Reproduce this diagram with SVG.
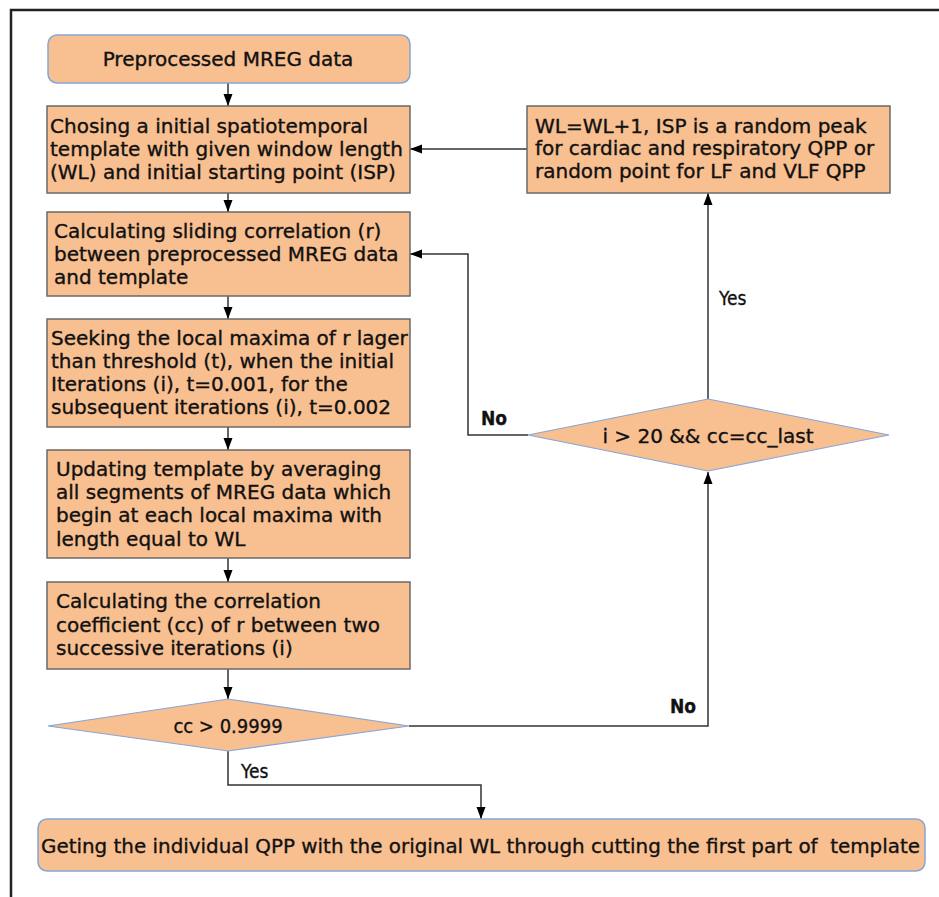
<svg xmlns="http://www.w3.org/2000/svg" width="939" height="897" viewBox="0 0 939 897">
<defs>
<marker id="ah" markerUnits="userSpaceOnUse" markerWidth="12" markerHeight="10" refX="12" refY="5" orient="auto">
<path d="M0,0.5 L12,5 L0,9.5 z" fill="#000"/>
</marker>
<style>
.box{fill:#f8bf90;stroke:#6a6a6a;stroke-width:1.5}
.rbox{fill:#f8bf90;stroke:#86a6d6;stroke-width:1.5}
.dia{fill:#f8bf90;stroke:#86a6d6;stroke-width:1.2}
.t{font-family:"DejaVu Sans",sans-serif;font-size:20px;fill:#111;stroke:#111;stroke-width:0.35}
.c{font-family:"DejaVu Sans Condensed","DejaVu Sans",sans-serif;font-size:20px;fill:#111;stroke:#111;stroke-width:0.3}
.lbl{font-family:"DejaVu Sans Condensed","DejaVu Sans",sans-serif;font-size:19px;fill:#111;stroke:#111;stroke-width:0.3}
.ln{fill:none;stroke:#333;stroke-width:1.5}
.arr{fill:none;stroke:#333;stroke-width:1.5;marker-end:url(#ah)}
</style>
</defs>
<rect width="939" height="897" fill="#fff"/>
<g id="frame">
<path d="M11,897 V10 H939" fill="none" stroke="#222" stroke-width="2.5"/>
</g>
<g id="connectors">
<line class="arr" x1="228" y1="83" x2="228" y2="106"/>
<line class="arr" x1="228" y1="193" x2="228" y2="212"/>
<line class="arr" x1="228" y1="296" x2="228" y2="319"/>
<line class="arr" x1="228" y1="427" x2="228" y2="450"/>
<line class="arr" x1="228" y1="558" x2="228" y2="582"/>
<line class="arr" x1="228" y1="669" x2="228" y2="699"/>
<polyline class="arr" points="228,751 228,785 481,785 481,819"/>
<polyline class="arr" points="409,726 708,726 708,472"/>
<polyline class="arr" points="528,435 468,435 468,254 410,254"/>
<line class="arr" x1="708" y1="399" x2="708" y2="193"/>
<line class="arr" x1="527" y1="149" x2="410" y2="149"/>
<text class="lbl" x="241" y="778">Yes</text>
<text class="lbl" x="670" y="713" font-weight="bold">No</text>
<text class="lbl" x="481" y="425" font-weight="bold">No</text>
<text class="lbl" x="719" y="305">Yes</text>
</g>
<g id="n1">
<rect class="rbox" x="48" y="35" width="362" height="48" rx="9"/>
<text class="t" x="228" y="66" text-anchor="middle">Preprocessed MREG data</text>
</g>
<g id="n2">
<rect class="box" x="47" y="106" width="363" height="87"/>
<text class="t" x="50" y="133">Chosing a initial spatiotemporal</text>
<text class="t" x="50" y="156">template with given window length</text>
<text class="t" x="50" y="179">(WL) and initial starting point (ISP)</text>
</g>
<g id="n3">
<rect class="box" x="47" y="212" width="363" height="84"/>
<text class="t" x="54" y="238">Calculating sliding correlation (r)</text>
<text class="t" x="54" y="261">between preprocessed MREG data</text>
<text class="t" x="54" y="284">and template</text>
</g>
<g id="n4">
<rect class="box" x="47" y="319" width="363" height="108"/>
<text class="t" x="51" y="345">Seeking the local maxima of r lager</text>
<text class="t" x="51" y="368">than threshold (t), when the initial</text>
<text class="t" x="51" y="391">Iterations (i), t=0.001, for the</text>
<text class="t" x="51" y="414">subsequent iterations (i), t=0.002</text>
</g>
<g id="n5">
<rect class="box" x="47" y="450" width="363" height="108"/>
<text class="t" x="56" y="476">Updating template by averaging</text>
<text class="t" x="56" y="499">all segments of MREG data which</text>
<text class="t" x="56" y="522">begin at each local maxima with</text>
<text class="t" x="56" y="546">length equal to WL</text>
</g>
<g id="n6">
<rect class="box" x="47" y="582" width="363" height="87"/>
<text class="t" x="56" y="608">Calculating the correlation</text>
<text class="t" x="56" y="632">coefficient (cc) of r between two</text>
<text class="t" x="56" y="655">successive iterations (i)</text>
</g>
<g id="d1">
<polygon class="dia" points="48,726 228,699 409,726 228,751"/>
<text class="c" x="228" y="733" text-anchor="middle" font-size="22">cc &gt; 0.9999</text>
</g>
<g id="d2">
<polygon class="dia" points="528,435 708,399 889,435 708,471"/>
<text class="t" x="708" y="443" text-anchor="middle">i &gt; 20 &amp;&amp; cc=cc_last</text>
</g>
<g id="n7">
<rect class="box" x="527" y="106" width="363" height="87"/>
<text class="t" x="535" y="133">WL=WL+1, ISP is a random peak</text>
<text class="t" x="535" y="155">for cardiac and respiratory QPP or</text>
<text class="t" x="535" y="178">random point for LF and VLF QPP</text>
</g>
<g id="n8">
<rect class="rbox" x="38" y="819" width="887" height="52" rx="9"/>
<text class="c" x="41" y="853" textLength="879" lengthAdjust="spacingAndGlyphs" xml:space="preserve">Geting the individual QPP with the original WL through cutting the first part of  template</text>
</g>
</svg>
